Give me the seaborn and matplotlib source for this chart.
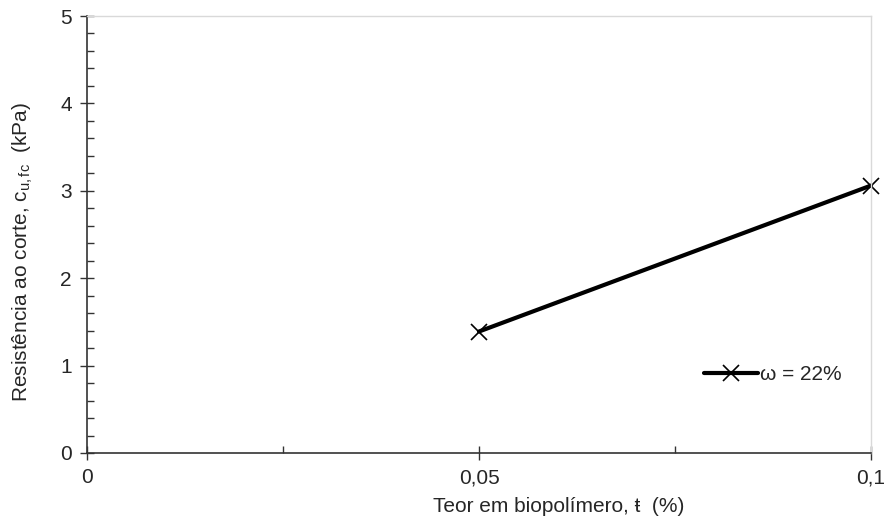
import numpy as np
import pandas as pd
import matplotlib
matplotlib.use('Agg')
import matplotlib.pyplot as plt
import seaborn as sns
from matplotlib.ticker import MultipleLocator, FixedLocator

# ── data ──────────────────────────────────────────────────────────────────────
teor = [0.05, 0.10]
cu_fc = [1.39, 3.06]
series = ['ω = 22%', 'ω = 22%']
x_ticks = [0, 0.05, 0.1]
x_labels = ['0', '0,05', '0,1']

df = pd.DataFrame({'teor': teor, 'cu': cu_fc, 'serie': series})

sns.set_style('white')
plt.rcParams['font.family'] = ['Liberation Sans', 'DejaVu Sans']
plt.rcParams['mathtext.fontset'] = 'custom'
plt.rcParams['mathtext.rm'] = 'Liberation Sans'
plt.rcParams['mathtext.it'] = 'Liberation Sans'

fig = plt.figure(figsize=(8.85, 5.19), dpi=100)
ax = fig.add_axes([87/885, 1 - 453/519, 784/885, 437/519])

sns.lineplot(data=df, x='teor', y='cu', hue='serie', palette=['black'],
             marker='x', markersize=11, markeredgewidth=1.2, markeredgecolor='black',
             linewidth=3, clip_on=False, ax=ax)

ax.set_xlim(0, 0.1)
ax.set_ylim(0, 5)
ax.xaxis.set_major_locator(FixedLocator(x_ticks))
ax.set_xticklabels(x_labels)
ax.xaxis.set_minor_locator(MultipleLocator(0.025))
ax.yaxis.set_major_locator(MultipleLocator(1))
ax.yaxis.set_minor_locator(MultipleLocator(0.2))

ax.tick_params(axis='both', which='major', direction='inout', length=10, width=1,
               color='#333333', labelsize=15, pad=6, bottom=True, left=True)
ax.tick_params(axis='both', which='minor', direction='in', length=5, width=1,
               color='#333333', bottom=True, left=True)

for s in ['left', 'bottom']:
    ax.spines[s].set_color('#333333')
    ax.spines[s].set_linewidth(1.2)
for s in ['top', 'right']:
    ax.spines[s].set_color('#d9d9d9')
    ax.spines[s].set_linewidth(1)

ax.set_xlabel('Teor em biopolímero, ŧ  (%)', fontsize=15)
ax.xaxis.set_label_coords(0.602, -0.10)
ax.set_ylabel('Resistência ao corte, c$_{\\mathrm{u,fc}}$  (kPa)', fontsize=15)
ax.yaxis.set_label_coords(-0.066, 0.46)

ax.legend(title=None, loc='center', bbox_to_anchor=(0.875, 0.18), frameon=False,
          fontsize=15, handlelength=2.6, handletextpad=0.1)

fig.savefig('out.png', dpi=100)
